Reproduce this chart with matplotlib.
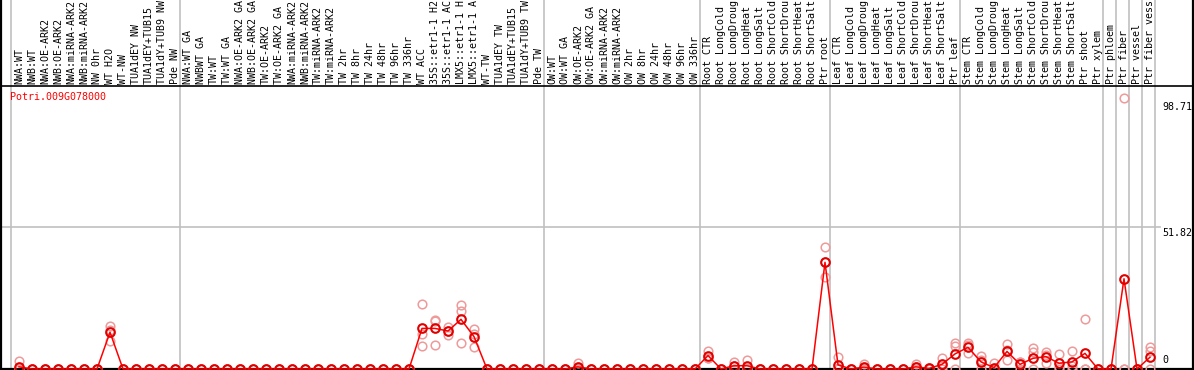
"""
eFP-style expression plot for Potri.009G078000 across poplar samples.
Saves out.png (1194x370).
"""
import matplotlib
matplotlib.use("Agg")
import matplotlib.pyplot as plt

# ----------------------------------------------------------------------
# Data
# ----------------------------------------------------------------------
GENE = "Potri.009G078000"

# labels as far as they are visible in the header band
samples = [
    "NWA:WT", "NWB:WT", "NWA:OE-ARK2", "NWB:OE-ARK2", "NWA:miRNA-ARK2",
    "NWB:miRNA-ARK2", "NW 0hr", "WT H2O", "WT-NW", "TUA1dEY NW",
    "TUA1dEY+TUB15", "TUA1dY+TUB9 NW", "Pde NW",
    "NWA:WT GA", "NWBWT GA", "TW:WT", "TW:WT GA", "NWA:OE-ARK2 GA",
    "NWB:OE-ARK2 GA", "TW:OE-ARK2", "TW:OE-ARK2 GA", "NWA:miRNA-ARK2",
    "NWB:miRNA-ARK2", "TW:miRNA-ARK2", "TW:miRNA-ARK2", "TW 2hr", "TW 8hr",
    "TW 24hr", "TW 48hr", "TW 96hr", "TW 336hr", "WT ACC",
    "35S::etr1-1 H2", "35S::etr1-1 AC", "LMX5::etr1-1 H",
    "LMX5::etr1-1 A", "WT-TW", "TUA1dEY TW", "TUA1dEY+TUB15",
    "TUA1dY+TUB9 TW", "Pde TW",
    "OW:WT", "OW:WT GA", "OW:OE-ARK2", "OW:OE-ARK2 GA", "OW:miRNA-ARK2",
    "OW:miRNA-ARK2", "OW 2hr", "OW 8hr", "OW 24hr", "OW 48hr", "OW 96hr",
    "OW 336hr",
    "Root CTR", "Root LongCold", "Root LongDroug", "Root LongHeat",
    "Root LongSalt", "Root ShortCold", "Root ShortDrou", "Root ShortHeat",
    "Root ShortSalt", "Ptr root",
    "Leaf CTR", "Leaf LongCold", "Leaf LongDroug", "Leaf LongHeat",
    "Leaf LongSalt", "Leaf ShortCold", "Leaf ShortDrou", "Leaf ShortHeat",
    "Leaf ShortSalt", "Ptr leaf",
    "Stem CTR", "Stem LongCold", "Stem LongDroug", "Stem LongHeat",
    "Stem LongSalt", "Stem ShortCold", "Stem ShortDrou", "Stem ShortHeat",
    "Stem ShortSalt", "Ptr shoot", "Ptr xylem",
    "Ptr phloem", "Ptr fiber", "Ptr vessel", "Ptr fiber vess",
]

# index of the last sample in each group (a grey separator follows it)
group_ends = [12, 40, 52, 62, 72, 83, 84, 85, 86, 87]

means = [0.0] * len(samples)
mean_values = {
    0: 0.8, 7: 13.4, 31: 14.8, 32: 14.8, 33: 13.85, 34: 18.1, 35: 11.8,
    43: 0.8, 53: 4.9, 55: 1.2, 56: 1.2, 62: 38.9, 63: 1.5, 65: 0.7,
    69: 0.8, 70: 0.2, 71: 1.7, 72: 5.5, 73: 7.9, 74: 2.6, 75: 0.5,
    76: 6.4, 77: 1.7, 78: 3.9, 79: 4.5, 80: 2.1, 81: 2.6, 82: 5.7,
    85: 32.9, 87: 4.3,
}
for k, v in mean_values.items():
    means[k] = v

replicates = [[0.0, 0.0, 0.0] for _ in samples]
replicate_values = {
    0: [2.9, 0, 0], 7: [15.8, 10.3, 14.1], 31: [23.7, 12.8, 8.3],
    32: [17.9, 17.4, 8.6], 33: [15.4, 13.9, 12.3], 34: [23.4, 21.0, 9.4],
    35: [14.6, 7.9, 12.9], 43: [2.1, 0.3, 0], 53: [6.7, 4.0, 4.0],
    55: [2.4, 1.2, 0], 56: [3.3, 0.3, 0], 62: [44.4, 33.4, 38.9],
    63: [4.3, 0.2, 0], 65: [1.8, 0.3, 0], 69: [1.7, 0.7, 0],
    70: [0.5, 0, 0], 71: [3.9, 1.2, 0], 72: [9.4, 8.4, 0],
    73: [9.6, 8.7, 5.7], 74: [4.7, 3.1, 0], 75: [2.1, 0, 0],
    76: [9.1, 7.0, 3.2], 77: [2.7, 2.4, 0], 78: [7.5, 6.3, 0],
    79: [6.3, 5.1, 2.1], 80: [5.5, 0.8, 0], 81: [6.6, 1.2, 0],
    82: [18.2, 0, 0], 85: [98.71, 0, 0], 87: [7.9, 6.6, 0],
}
for k, v in replicate_values.items():
    replicates[k] = v

y_max_label = 98.71
y_mid_label = 51.82

# ----------------------------------------------------------------------
# Layout (pixel based: 13 px per sample, value 0 at pixel row 369)
# ----------------------------------------------------------------------
W, H = 1194, 370
X0_PX, STEP_PX = 19, 13
Y0_PX, PX_PER_UNIT = 369, 2.743
MONO = "DejaVu Sans Mono"
FS = 7.2


def px_x(p):
    return (p - X0_PX) / STEP_PX


def px_y(p):
    return (Y0_PX - p) / PX_PER_UNIT


fig = plt.figure(figsize=(W / 100, H / 100), dpi=100)
ax = fig.add_axes([0, 0, 1, 1])
ax.set_xlim(px_x(0), px_x(W))
ax.set_ylim(px_y(H), px_y(0))
ax.axis("off")

# grey separators
ax.axvline(-0.615, color="#c0c0c0", lw=1.2, zorder=1)
for e in group_ends:
    ax.axvline(e + 0.385, color="#c0c0c0", lw=1.2, zorder=1)
ax.plot([px_x(0), px_x(1160)], [y_mid_label, y_mid_label],
        color="#c0c0c0", lw=1.2, zorder=1)

# black frame
ax.axhline(px_y(85.5), color="black", lw=1.2, zorder=2)
ax.axhline(0, color="black", lw=1.6, zorder=2)
ax.axvline(px_x(1), color="black", lw=1.6, zorder=2)
ax.axvline(px_x(1193), color="black", lw=1.6, zorder=2)

# replicate points
xs = list(range(len(samples)))
for j in range(3):
    ax.plot(xs, [r[j] for r in replicates], "o", ms=6.2, mfc="none",
            mec="#ee9a9a", mew=1.1, zorder=3)

# mean line + points
ax.plot(xs, means, "-", color="red", lw=1.1, zorder=4)
ax.plot(xs, means, "o", ms=6.2, mfc="none", mec="#e00000", mew=1.5,
        zorder=5)

# sample labels (rotated)
for i, name in enumerate(samples):
    ax.text(i, px_y(84), name, rotation=90, ha="center", va="bottom",
            family=MONO, fontsize=FS, color="black")

# gene name
ax.text(px_x(10), px_y(96.5), GENE, ha="left", va="center",
        family=MONO, fontsize=FS, color="red")

# value labels on the right
ax.text(px_x(1162), y_max_label - 1.4, f"{y_max_label:.2f}", ha="left",
        va="top", family=MONO, fontsize=FS)
ax.text(px_x(1162), y_mid_label - 0.3, f"{y_mid_label:.2f}", ha="left",
        va="top", family=MONO, fontsize=FS)
ax.text(px_x(1162), px_y(365), "0", ha="left", va="bottom",
        family=MONO, fontsize=FS)

fig.savefig("out.png", dpi=100)
plt.close(fig)
